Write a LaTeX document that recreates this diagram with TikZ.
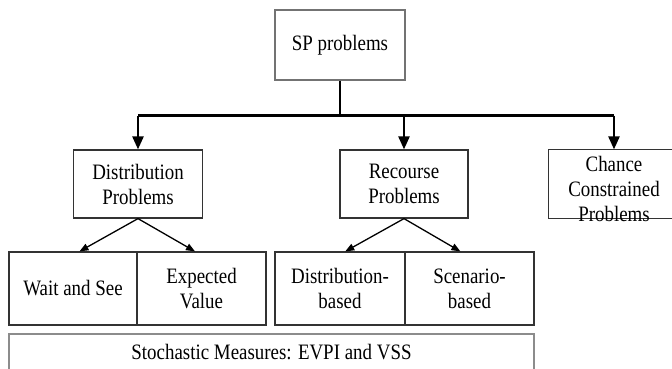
\documentclass[tikz,border=0pt]{standalone}
\usepackage{fontspec}
\setmainfont[FakeStretch=0.86]{Liberation Serif}
\usetikzlibrary{arrows.meta,calc}
\begin{document}
\begin{tikzpicture}[x=1pt,y=-1pt,
  lbl/.style={align=center,font=\fontsize{22}{25}\selectfont},
  box/.style={lbl,draw=black!80,line width=1.2pt,rectangle,inner sep=0pt},
  tree/.style={line width=2.4pt,-{Triangle[length=13pt,width=11pt]}},
  sub/.style={line width=1.3pt,-{Triangle[length=9pt,width=7pt]}}]
\useasboundingbox (0,0) rectangle (672,369);
\clip (0,0) rectangle (672,369);
\node[box,draw=black!55,minimum width=130pt,minimum height=70pt] (sp) at (340,45) {SP problems};
\node[box,minimum width=129pt,minimum height=68pt] (dist) at (138,184) {Distribution\\Problems};
\node[box,minimum width=128pt,minimum height=68pt] (rec) at (404,184) {Recourse\\Problems};
\node[box,draw=none,minimum width=150pt,minimum height=68pt] (chance) at (624,184) {};
\draw[draw=black!80,line width=1.2pt] (chance.north east) -- (chance.north west) -- (chance.south west) -- (chance.south east);
\node[lbl] (chtext) at (614,189) {Chance\\Constrained\\Problems};
\node[box,minimum width=128pt,minimum height=73pt] (ws) at (73,288.5) {Wait and See};
\node[box,minimum width=129pt,minimum height=73pt] (ev) at (201.5,288.5) {Expected\\Value};
\node[box,minimum width=130pt,minimum height=73pt] (db) at (340,288.5) {Distribution-\\based};
\node[box,minimum width=129pt,minimum height=73pt] (sb) at (469.5,288.5) {Scenario-\\based};
\node[box,draw=black!45,minimum width=525pt,minimum height=50pt] (sm) at (271.5,359) {};
\node[lbl] (smtext) at (271.5,352) {Stochastic Measures: EVPI and VSS};
\draw[line width=2.4pt] (sp.south) -- ++(0,35) coordinate (j);
\draw[line width=2.4pt] (dist.north |- j) -- (chtext.north |- j);
\draw[tree] (dist.north |- j) -- (dist.north);
\draw[tree] (rec.north |- j) -- (rec.north);
\draw[tree] (chtext.north |- j) -- (chtext.north |- chance.north);
\draw[sub] (dist.south) -- ($(ws.north west)!0.55!(ws.north east)$);
\draw[sub] (dist.south) -- ($(ev.north west)!0.45!(ev.north east)$);
\draw[sub] (rec.south) -- ($(db.north west)!0.54!(db.north east)$);
\draw[sub] (rec.south) -- ($(sb.north west)!0.43!(sb.north east)$);
\end{tikzpicture}
\end{document}
